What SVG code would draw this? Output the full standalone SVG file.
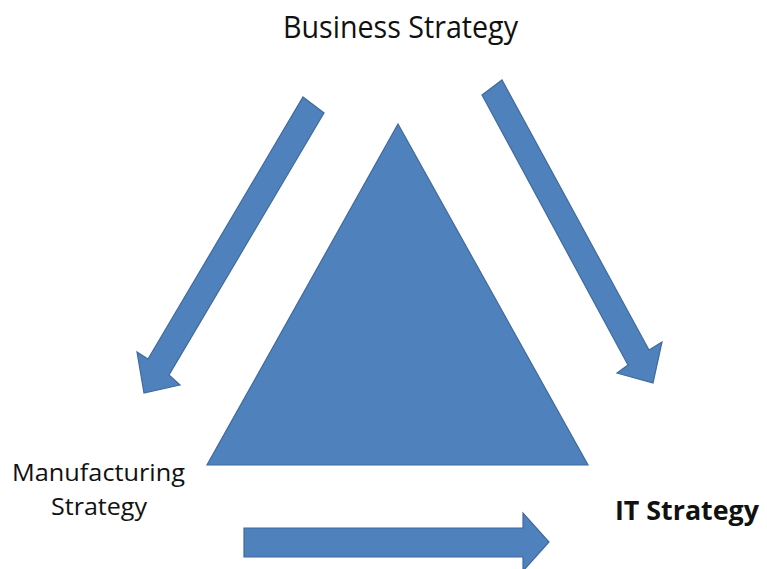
<svg xmlns="http://www.w3.org/2000/svg" width="767" height="569" viewBox="0 0 767 569">
<style>
.shape{fill:#4F81BD;stroke:#3F6A9E;stroke-width:1.2;stroke-linejoin:miter}
.lbl{font-family:"Open Sans","Liberation Sans",sans-serif;fill:#111111}
</style>
<rect width="767" height="569" fill="#FFFFFF"/>
<g id="triangle">
<polygon class="shape" points="398,124 588,465 207,465"/>
</g>
<g id="connectors">
<polygon id="arrow-business-manufacturing" class="shape" points="303,97 324,113 169,375 180,385 144,393 137,352 148,359"/>
<polygon id="arrow-business-it" class="shape" points="482,95 502,80 649,350 662,342 653,383 617,373 628,365"/>
<polygon id="arrow-manufacturing-it" class="shape" points="244,528 523,528 523,513 549,542 523,571 523,557 244,557"/>
</g>
<g id="business-strategy">
<text class="lbl" x="283" y="38" font-size="31" textLength="235" lengthAdjust="spacingAndGlyphs">Business Strategy</text>
</g>
<g id="manufacturing-strategy">
<text class="lbl" font-size="24"><tspan x="12" y="481" textLength="173" lengthAdjust="spacingAndGlyphs">Manufacturing</tspan><tspan x="51" y="515" textLength="96" lengthAdjust="spacingAndGlyphs">Strategy</tspan></text>
</g>
<g id="it-strategy">
<text class="lbl" x="615" y="520" font-size="27" font-weight="bold" textLength="144" lengthAdjust="spacingAndGlyphs">IT Strategy</text>
</g>
</svg>
